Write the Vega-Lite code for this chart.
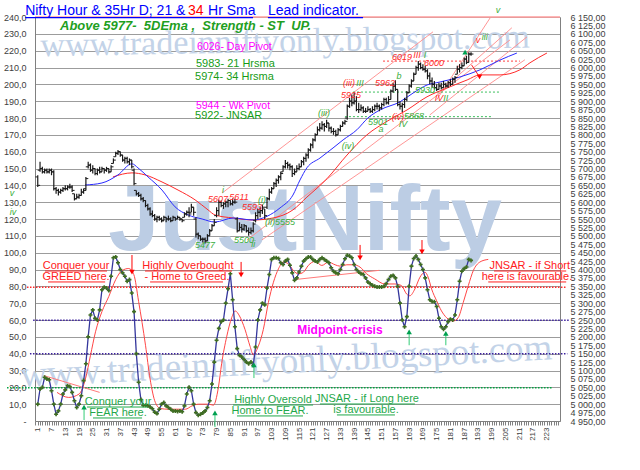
{
  "$schema": "https://vega.github.io/schema/vega-lite/v6.json",
  "width": 525,
  "height": 404,
  "autosize": {"type": "none"},
  "padding": {"left": 35, "top": 17, "right": 80, "bottom": 49},
  "background": "#ffffff",
  "config": {"view": {"stroke": null}, "font": "Liberation Sans", "axis": {"labelFont": "Liberation Sans"}},
  "datasets": {
    "wm": [
      {"t": "JustNifty", "i": 117.6, "v": 101.6, "g": "big"},
      {"t": "www.tradeinniftyonly.blogspot.com", "i": 108.9, "v": 225.2, "g": "url1"},
      {"t": "www.tradeinniftyonly.blogspot.com", "i": 109.4, "v": 35, "g": "url2"}
    ],
    "topb": [{"i1": -0.2, "i2": 228.8, "v": 240}],
    "ohl": [
      {"i1": -3.7, "i2": 231.8, "v": 79.5, "g": "red"},
      {"i1": -1, "i2": 233, "v": 59.8, "g": "purple"},
      {"i1": -2.4, "i2": 232, "v": 40, "g": "purple"},
      {"i1": -12.4, "i2": 225.3, "v": 19.8, "g": "green"}
    ],
    "otr": [
      {"i1": 3.6, "v1": 27, "i2": 28, "v2": 17},
      {"i1": 113, "v1": 84, "i2": 150, "v2": 89.5}
    ],
    "sig": [
      {"i": 9.4, "v": 17}, {"i": 14.5, "v": 14}, {"i": 19, "v": 16}, {"i": 21.8, "v": 25}, {"i": 24, "v": 39},
      {"i": 26.2, "v": 53}, {"i": 29, "v": 65}, {"i": 32, "v": 74}, {"i": 35, "v": 84}, {"i": 37.8, "v": 89.4},
      {"i": 40.7, "v": 90.6}, {"i": 42.9, "v": 87}, {"i": 45, "v": 71}, {"i": 48, "v": 45}, {"i": 50, "v": 25},
      {"i": 52.3, "v": 11}, {"i": 54.5, "v": 7.4}, {"i": 58, "v": 7}, {"i": 65.4, "v": 7}, {"i": 68.3, "v": 9},
      {"i": 71.2, "v": 10}, {"i": 75.6, "v": 10}, {"i": 77.6, "v": 9.4}, {"i": 79.8, "v": 20}, {"i": 81.2, "v": 34},
      {"i": 83.4, "v": 50}, {"i": 85.6, "v": 61.4}, {"i": 87.1, "v": 65.4}, {"i": 89, "v": 62.4}, {"i": 91.4, "v": 54.4},
      {"i": 93.6, "v": 44.4}, {"i": 95, "v": 39.4}, {"i": 97.2, "v": 44.4}, {"i": 99.4, "v": 54.4}, {"i": 101.6, "v": 70.4},
      {"i": 103.8, "v": 82.4}, {"i": 106, "v": 90.4}, {"i": 108.1, "v": 94.4}, {"i": 110.3, "v": 93.4}, {"i": 112.5, "v": 89.4},
      {"i": 114.7, "v": 87.4}, {"i": 116.9, "v": 88.4}, {"i": 119, "v": 92.4}, {"i": 122, "v": 94.8}, {"i": 124.9, "v": 92.4},
      {"i": 127.8, "v": 94.4}, {"i": 130.7, "v": 92.8}, {"i": 132.8, "v": 92}, {"i": 135.8, "v": 92.8}, {"i": 138.7, "v": 92.8},
      {"i": 141.6, "v": 91.4}, {"i": 144.5, "v": 87.4}, {"i": 148, "v": 84.4}, {"i": 152.4, "v": 81.4}, {"i": 156.8, "v": 81.4},
      {"i": 159.7, "v": 80.4}, {"i": 161.9, "v": 75.4}, {"i": 163.3, "v": 74.4}, {"i": 165.5, "v": 78.4}, {"i": 167.7, "v": 85.4},
      {"i": 169.9, "v": 88.4}, {"i": 171.3, "v": 85.4}, {"i": 172.8, "v": 78.4}, {"i": 175, "v": 71.4}, {"i": 177.1, "v": 65.4},
      {"i": 179.3, "v": 61.4}, {"i": 182.2, "v": 59.4}, {"i": 184.4, "v": 61.4}, {"i": 186.6, "v": 70.4}, {"i": 188.8, "v": 80.4},
      {"i": 191, "v": 89.4}, {"i": 193.8, "v": 94.4}, {"i": 197.5, "v": 96}
    ],
    "osc": [
      {"i": 1, "v": 10}, {"i": 2, "v": 19}, {"i": 3, "v": 20}, {"i": 4, "v": 26}, {"i": 5, "v": 25},
      {"i": 6, "v": 24.5}, {"i": 7, "v": 18}, {"i": 8, "v": 10}, {"i": 9, "v": 4}, {"i": 10, "v": 6},
      {"i": 11, "v": 10}, {"i": 12, "v": 16}, {"i": 13, "v": 18.5}, {"i": 14, "v": 21}, {"i": 15, "v": 20.5},
      {"i": 16, "v": 17}, {"i": 17, "v": 12}, {"i": 18, "v": 8}, {"i": 19, "v": 10}, {"i": 20, "v": 15},
      {"i": 21, "v": 24}, {"i": 22, "v": 34}, {"i": 23, "v": 50}, {"i": 24, "v": 63}, {"i": 25, "v": 66},
      {"i": 26, "v": 61}, {"i": 27, "v": 60}, {"i": 28, "v": 66}, {"i": 29, "v": 78}, {"i": 30, "v": 79.5},
      {"i": 31, "v": 79}, {"i": 32, "v": 77.5}, {"i": 33, "v": 86}, {"i": 34, "v": 97}, {"i": 35, "v": 97.5},
      {"i": 36, "v": 94}, {"i": 37, "v": 90}, {"i": 38, "v": 88}, {"i": 39, "v": 86}, {"i": 40, "v": 83},
      {"i": 41, "v": 84}, {"i": 42, "v": 76}, {"i": 43, "v": 65}, {"i": 44, "v": 40}, {"i": 45, "v": 23},
      {"i": 46, "v": 12.7}, {"i": 47, "v": 9.3}, {"i": 48, "v": 9.3}, {"i": 49, "v": 9}, {"i": 50, "v": 8.3},
      {"i": 51, "v": 7.3}, {"i": 52, "v": 5.3}, {"i": 53, "v": 4.4}, {"i": 54, "v": 7}, {"i": 55, "v": 10},
      {"i": 56, "v": 11}, {"i": 57, "v": 9}, {"i": 58, "v": 8}, {"i": 59, "v": 7}, {"i": 60, "v": 6},
      {"i": 61, "v": 6}, {"i": 62, "v": 5.7}, {"i": 63, "v": 6}, {"i": 64, "v": 5.5}, {"i": 65, "v": 9},
      {"i": 66, "v": 16}, {"i": 67, "v": 20}, {"i": 68, "v": 18}, {"i": 69, "v": 10}, {"i": 70, "v": 5},
      {"i": 71, "v": 3.4}, {"i": 72, "v": 4}, {"i": 73, "v": 4.8}, {"i": 74, "v": 6}, {"i": 75, "v": 8},
      {"i": 76, "v": 12}, {"i": 77, "v": 22}, {"i": 78, "v": 35}, {"i": 79, "v": 48}, {"i": 80, "v": 55},
      {"i": 81, "v": 59}, {"i": 82, "v": 60}, {"i": 83, "v": 70}, {"i": 84, "v": 78.6}, {"i": 85, "v": 87.5},
      {"i": 86, "v": 72}, {"i": 87, "v": 56}, {"i": 88, "v": 43}, {"i": 89, "v": 39}, {"i": 90, "v": 38},
      {"i": 91, "v": 36.5}, {"i": 92, "v": 35}, {"i": 93, "v": 34}, {"i": 94, "v": 35}, {"i": 95, "v": 33},
      {"i": 96, "v": 44}, {"i": 97, "v": 60}, {"i": 98, "v": 66}, {"i": 99, "v": 70}, {"i": 100, "v": 69},
      {"i": 101, "v": 79}, {"i": 102, "v": 87}, {"i": 103, "v": 96}, {"i": 104, "v": 97}, {"i": 105, "v": 97},
      {"i": 106, "v": 96.5}, {"i": 107, "v": 94}, {"i": 108, "v": 93}, {"i": 109, "v": 95}, {"i": 110, "v": 96},
      {"i": 111, "v": 92.5}, {"i": 112, "v": 88}, {"i": 113, "v": 83.6}, {"i": 114, "v": 85}, {"i": 115, "v": 88.5},
      {"i": 116, "v": 92}, {"i": 117, "v": 95}, {"i": 118, "v": 96.4}, {"i": 119, "v": 97.4}, {"i": 120, "v": 97.4},
      {"i": 121, "v": 96}, {"i": 122, "v": 95}, {"i": 123, "v": 94.5}, {"i": 124, "v": 96}, {"i": 125, "v": 97},
      {"i": 126, "v": 96}, {"i": 127, "v": 95}, {"i": 128, "v": 94}, {"i": 129, "v": 91}, {"i": 130, "v": 89},
      {"i": 131, "v": 88}, {"i": 132, "v": 87.5}, {"i": 133, "v": 90}, {"i": 134, "v": 93}, {"i": 135, "v": 96.4},
      {"i": 136, "v": 98.4}, {"i": 137, "v": 98}, {"i": 138, "v": 97}, {"i": 139, "v": 93}, {"i": 140, "v": 90},
      {"i": 141, "v": 88.5}, {"i": 142, "v": 87.5}, {"i": 143, "v": 87}, {"i": 144, "v": 85}, {"i": 145, "v": 82.6},
      {"i": 146, "v": 81.5}, {"i": 147, "v": 80.6}, {"i": 148, "v": 80}, {"i": 149, "v": 79.6}, {"i": 150, "v": 79.6},
      {"i": 151, "v": 79.6}, {"i": 152, "v": 80}, {"i": 153, "v": 81.6}, {"i": 154, "v": 84}, {"i": 155, "v": 86},
      {"i": 156, "v": 86.5}, {"i": 157, "v": 85}, {"i": 158, "v": 80}, {"i": 159, "v": 70}, {"i": 160, "v": 60},
      {"i": 161, "v": 56}, {"i": 162, "v": 62}, {"i": 163, "v": 80}, {"i": 164, "v": 92}, {"i": 165, "v": 96.5},
      {"i": 166, "v": 98}, {"i": 167, "v": 96}, {"i": 168, "v": 93}, {"i": 169, "v": 90}, {"i": 170, "v": 85},
      {"i": 171, "v": 78}, {"i": 172, "v": 72}, {"i": 173, "v": 71}, {"i": 174, "v": 70.8}, {"i": 175, "v": 68},
      {"i": 176, "v": 61}, {"i": 177, "v": 56}, {"i": 178, "v": 54.5}, {"i": 179, "v": 56}, {"i": 180, "v": 59},
      {"i": 181, "v": 60.5}, {"i": 182, "v": 60}, {"i": 183, "v": 63}, {"i": 184, "v": 72}, {"i": 185, "v": 83},
      {"i": 186, "v": 89}, {"i": 187, "v": 90.5}, {"i": 188, "v": 91.5}, {"i": 189, "v": 96}, {"i": 190, "v": 95.4}
    ],
    "arr": [
      {"i": 42.1, "v1": 98.6, "v2": 88.5, "g": "red"},
      {"i": 89.7, "v1": 94.5, "v2": 86.8, "g": "red"},
      {"i": 141.6, "v1": 104.6, "v2": 96.9, "g": "red"},
      {"i": 168.6, "v1": 107.5, "v2": 100.4, "g": "red"},
      {"i": 21.2, "v1": 0.6, "v2": 8.3, "g": "green"},
      {"i": 78.3, "v1": -3.6, "v2": 4.8, "g": "green"},
      {"i": 95.3, "v1": 25.5, "v2": 33.3, "g": "green"},
      {"i": 163, "v1": 45, "v2": 53, "g": "green"},
      {"i": 179, "v1": 45, "v2": 52, "g": "green"}
    ],
    "otxt": [
      {"t": "Conquer your", "i": 17.7, "v": 92.1, "g": "red"},
      {"t": "GREED here.", "i": 17.7, "v": 85.6, "g": "red"},
      {"t": "Highly Overbought", "i": 66.5, "v": 92.1, "g": "red"},
      {"t": "- Home to Greed.", "i": 66.1, "v": 85.6, "g": "red"},
      {"t": "JNSAR - if Short", "i": 215.6, "v": 92.1, "g": "red"},
      {"t": "here is favourable.", "i": 214.4, "v": 85.6, "g": "red"},
      {"t": "Conquer your", "i": 36, "v": 11.3, "g": "green"},
      {"t": "FEAR here.", "i": 36, "v": 4.8, "g": "green"},
      {"t": "Highly Oversold", "i": 103.6, "v": 12.5, "g": "green"},
      {"t": "Home to FEAR.", "i": 102.3, "v": 5.9, "g": "green"},
      {"t": "JNSAR - if Long here", "i": 144.6, "v": 13.1, "g": "green"},
      {"t": "is favourable.", "i": 144.2, "v": 6.5, "g": "green"},
      {"t": "Midpoint-crisis", "i": 132.8, "v": 54.1, "g": "mag"}
    ],
    "oul": [
      {"i1": 4.2, "i2": 31.2, "v": 89.1, "g": "red"},
      {"i1": 5.5, "i2": 30.4, "v": 82.6, "g": "red"},
      {"i1": 47.8, "i2": 85.7, "v": 89.1, "g": "red"},
      {"i1": 50, "i2": 81.8, "v": 82.6, "g": "red"},
      {"i1": 200, "i2": 231.5, "v": 89.1, "g": "red"},
      {"i1": 197.5, "i2": 231.5, "v": 82.6, "g": "red"},
      {"i1": 22.5, "i2": 49.1, "v": 8.3, "g": "green"},
      {"i1": 25.1, "i2": 46.5, "v": 1.8, "g": "green"},
      {"i1": 86.2, "i2": 121.1, "v": 9.5, "g": "green"},
      {"i1": 87.9, "i2": 116.7, "v": 3, "g": "green"},
      {"i1": 124.1, "i2": 165.5, "v": 10.1, "g": "green"},
      {"i1": 131.5, "i2": 156.8, "v": 3.6, "g": "green"}
    ],
    "ttl": [
      {"t": "Nifty Hour & 35Hr D; 21 &", "i": -4.5, "v": 243.3, "g": "blue"},
      {"t": "34", "i": 66.5, "v": 243.3, "g": "red"},
      {"t": "Hr Sma", "i": 75.3, "v": 243.3, "g": "blue"},
      {"t": "Lead indicator.", "i": 101.4, "v": 243.3, "g": "blue"},
      {"t": "Above 5977-\u00a0 5DEma ,\u00a0 Strength - ST\u00a0 UP.", "i": 10.7, "v": 234.4, "g": "green"}
    ],
    "tul": [
      {"i1": -4.5, "i2": 94.9, "v": 239.6},
      {"i1": 101.4, "i2": 142.9, "v": 239.6}
    ],
    "chan": [
      {"i1": 81.4, "p1": 5627, "i2": 173.4, "p2": 6106},
      {"i1": 92.3, "p1": 5488, "i2": 207, "p2": 6082},
      {"i1": 98.8, "p1": 5488, "i2": 213.5, "p2": 6023},
      {"i1": 175, "p1": 5904, "i2": 198.3, "p2": 6147},
      {"i1": 175, "p1": 5919, "i2": 207.8, "p2": 6118},
      {"i1": 172, "p1": 5859, "i2": 214.4, "p2": 6091}
    ],
    "phl": [
      {"i1": 151.6, "i2": 211.3, "p": 6019, "g": "red"},
      {"i1": 138.5, "i2": 202.6, "p": 5927, "g": "green"},
      {"i1": 135, "i2": 199.1, "p": 5854, "g": "green"}
    ],
    "sma21": [
      {"i": 21.6, "p": 5651}, {"i": 29, "p": 5657}, {"i": 36, "p": 5681}, {"i": 42.1, "p": 5714}, {"i": 44.7, "p": 5702},
      {"i": 49.1, "p": 5675}, {"i": 55.2, "p": 5636}, {"i": 60.9, "p": 5586}, {"i": 66.6, "p": 5562}, {"i": 72.7, "p": 5550},
      {"i": 78.3, "p": 5541}, {"i": 86.2, "p": 5553}, {"i": 94.9, "p": 5547}, {"i": 101, "p": 5558}, {"i": 106.7, "p": 5583},
      {"i": 112.3, "p": 5621}, {"i": 115.4, "p": 5666}, {"i": 118.4, "p": 5702}, {"i": 124.1, "p": 5731}, {"i": 129.8, "p": 5761},
      {"i": 134.2, "p": 5785}, {"i": 140.2, "p": 5815}, {"i": 145, "p": 5850}, {"i": 150.3, "p": 5874}, {"i": 159, "p": 5898},
      {"i": 164.7, "p": 5924}, {"i": 170.8, "p": 5948}, {"i": 176.5, "p": 5957}, {"i": 185.2, "p": 5972}, {"i": 193.9, "p": 5993},
      {"i": 202.6, "p": 6022}, {"i": 210, "p": 6043}
    ],
    "sma34": [
      {"i": 33.8, "p": 5675}, {"i": 42.1, "p": 5687}, {"i": 47.8, "p": 5681}, {"i": 55.2, "p": 5660}, {"i": 62.2, "p": 5636},
      {"i": 69.6, "p": 5607}, {"i": 75.3, "p": 5577}, {"i": 78.3, "p": 5562}, {"i": 86.2, "p": 5553}, {"i": 94.9, "p": 5547},
      {"i": 103.6, "p": 5553}, {"i": 112.3, "p": 5577}, {"i": 118.4, "p": 5615}, {"i": 127.2, "p": 5670}, {"i": 135.9, "p": 5740},
      {"i": 144.6, "p": 5800}, {"i": 153.3, "p": 5840}, {"i": 162.1, "p": 5874}, {"i": 170.8, "p": 5913}, {"i": 179.5, "p": 5939},
      {"i": 188.3, "p": 5963}, {"i": 193.9, "p": 5978}, {"i": 202.6, "p": 5978}, {"i": 211.3, "p": 5993}, {"i": 215.7, "p": 6014},
      {"i": 223.1, "p": 6043}
    ],
    "bars": [
      {"i":1,"o":5675,"h":5680,"l":5645,"c":5650},{"i":2,"o":5695,"h":5720,"l":5690,"c":5700},{"i":3,"o":5700,"h":5705,"l":5685,"c":5690},
      {"i":4,"o":5690,"h":5700,"l":5685,"c":5695},{"i":5,"o":5695,"h":5700,"l":5685,"c":5690},{"i":6,"o":5690,"h":5700,"l":5685,"c":5695},
      {"i":7,"o":5695,"h":5700,"l":5680,"c":5690},{"i":8,"o":5690,"h":5695,"l":5635,"c":5640},{"i":9,"o":5640,"h":5645,"l":5625,"c":5635},
      {"i":10,"o":5635,"h":5640,"l":5620,"c":5630},{"i":11,"o":5630,"h":5640,"l":5625,"c":5635},{"i":12,"o":5635,"h":5645,"l":5630,"c":5640},
      {"i":13,"o":5640,"h":5650,"l":5635,"c":5640},{"i":14,"o":5640,"h":5650,"l":5635,"c":5645},{"i":15,"o":5645,"h":5655,"l":5640,"c":5645},
      {"i":16,"o":5645,"h":5650,"l":5630,"c":5635},{"i":17,"o":5625,"h":5625,"l":5605,"c":5610},{"i":18,"o":5610,"h":5625,"l":5610,"c":5615},
      {"i":19,"o":5615,"h":5625,"l":5610,"c":5620},{"i":20,"o":5620,"h":5640,"l":5620,"c":5630},{"i":21,"o":5630,"h":5640,"l":5625,"c":5635},
      {"i":22,"o":5640,"h":5675,"l":5635,"c":5670},{"i":23,"o":5705,"h":5720,"l":5700,"c":5710},{"i":24,"o":5710,"h":5715,"l":5690,"c":5695},
      {"i":25,"o":5695,"h":5710,"l":5685,"c":5700},{"i":26,"o":5700,"h":5700,"l":5680,"c":5685},{"i":27,"o":5685,"h":5700,"l":5680,"c":5695},
      {"i":28,"o":5695,"h":5705,"l":5685,"c":5690},{"i":29,"o":5690,"h":5705,"l":5690,"c":5700},{"i":30,"o":5700,"h":5700,"l":5685,"c":5695},
      {"i":31,"o":5695,"h":5705,"l":5690,"c":5700},{"i":32,"o":5700,"h":5700,"l":5685,"c":5690},{"i":33,"o":5690,"h":5710,"l":5690,"c":5705},
      {"i":34,"o":5715,"h":5730,"l":5715,"c":5725},{"i":35,"o":5735,"h":5750,"l":5735,"c":5745},{"i":36,"o":5745,"h":5755,"l":5740,"c":5750},
      {"i":37,"o":5750,"h":5750,"l":5735,"c":5740},{"i":38,"o":5740,"h":5740,"l":5720,"c":5725},{"i":39,"o":5725,"h":5735,"l":5715,"c":5730},
      {"i":40,"o":5730,"h":5735,"l":5715,"c":5720},{"i":41,"o":5720,"h":5730,"l":5710,"c":5725},{"i":42,"o":5725,"h":5725,"l":5700,"c":5705},
      {"i":43,"o":5695,"h":5700,"l":5650,"c":5655},{"i":44,"o":5635,"h":5635,"l":5620,"c":5625},{"i":45,"o":5625,"h":5630,"l":5615,"c":5620},
      {"i":46,"o":5620,"h":5625,"l":5605,"c":5610},{"i":47,"o":5610,"h":5615,"l":5600,"c":5605},{"i":48,"o":5605,"h":5605,"l":5585,"c":5590},
      {"i":49,"o":5590,"h":5595,"l":5575,"c":5580},{"i":50,"o":5580,"h":5585,"l":5560,"c":5565},{"i":51,"o":5565,"h":5575,"l":5555,"c":5560},
      {"i":52,"o":5560,"h":5565,"l":5545,"c":5550},{"i":53,"o":5550,"h":5560,"l":5540,"c":5555},{"i":54,"o":5555,"h":5560,"l":5545,"c":5550},
      {"i":55,"o":5550,"h":5555,"l":5540,"c":5545},{"i":56,"o":5545,"h":5560,"l":5545,"c":5555},{"i":57,"o":5555,"h":5555,"l":5540,"c":5550},
      {"i":58,"o":5550,"h":5560,"l":5545,"c":5550},{"i":59,"o":5550,"h":5555,"l":5540,"c":5545},{"i":60,"o":5545,"h":5560,"l":5545,"c":5555},
      {"i":61,"o":5555,"h":5555,"l":5545,"c":5550},{"i":62,"o":5550,"h":5560,"l":5550,"c":5555},{"i":63,"o":5555,"h":5555,"l":5545,"c":5550},
      {"i":64,"o":5550,"h":5550,"l":5540,"c":5545},{"i":65,"o":5555,"h":5570,"l":5555,"c":5565},{"i":66,"o":5565,"h":5575,"l":5560,"c":5570},
      {"i":67,"o":5570,"h":5585,"l":5555,"c":5565},{"i":68,"o":5570,"h":5595,"l":5570,"c":5585},{"i":69,"o":5585,"h":5585,"l":5560,"c":5570},
      {"i":70,"o":5550,"h":5555,"l":5495,"c":5505},{"i":71,"o":5505,"h":5510,"l":5490,"c":5500},{"i":72,"o":5500,"h":5500,"l":5485,"c":5490},
      {"i":73,"o":5490,"h":5495,"l":5480,"c":5490},{"i":74,"o":5490,"h":5495,"l":5477,"c":5485},{"i":75,"o":5485,"h":5505,"l":5485,"c":5500},
      {"i":76,"o":5500,"h":5520,"l":5500,"c":5515},{"i":77,"o":5515,"h":5535,"l":5515,"c":5530},{"i":78,"o":5530,"h":5550,"l":5530,"c":5540},
      {"i":79,"o":5560,"h":5585,"l":5555,"c":5575},{"i":80,"o":5575,"h":5607,"l":5560,"c":5600},{"i":81,"o":5600,"h":5605,"l":5585,"c":5590},
      {"i":82,"o":5590,"h":5600,"l":5580,"c":5595},{"i":83,"o":5595,"h":5605,"l":5585,"c":5600},{"i":84,"o":5600,"h":5610,"l":5585,"c":5605},
      {"i":85,"o":5605,"h":5605,"l":5590,"c":5595},{"i":86,"o":5595,"h":5611,"l":5590,"c":5600},{"i":87,"o":5600,"h":5610,"l":5595,"c":5600},
      {"i":88,"o":5550,"h":5555,"l":5510,"c":5515},{"i":89,"o":5515,"h":5540,"l":5515,"c":5525},{"i":90,"o":5525,"h":5535,"l":5510,"c":5520},
      {"i":91,"o":5520,"h":5535,"l":5515,"c":5530},{"i":92,"o":5530,"h":5530,"l":5510,"c":5515},{"i":93,"o":5515,"h":5525,"l":5500,"c":5510},
      {"i":94,"o":5510,"h":5525,"l":5505,"c":5515},{"i":95,"o":5515,"h":5540,"l":5510,"c":5535},{"i":96,"o":5545,"h":5570,"l":5540,"c":5560},
      {"i":97,"o":5560,"h":5580,"l":5550,"c":5570},{"i":98,"o":5570,"h":5585,"l":5555,"c":5575},{"i":99,"o":5575,"h":5593,"l":5565,"c":5585},
      {"i":100,"o":5580,"h":5580,"l":5550,"c":5560},{"i":101,"o":5585,"h":5615,"l":5580,"c":5610},{"i":102,"o":5610,"h":5640,"l":5605,"c":5630},
      {"i":103,"o":5630,"h":5645,"l":5625,"c":5640},{"i":104,"o":5640,"h":5660,"l":5640,"c":5655},{"i":105,"o":5655,"h":5670,"l":5645,"c":5665},
      {"i":106,"o":5665,"h":5680,"l":5655,"c":5675},{"i":107,"o":5675,"h":5690,"l":5665,"c":5685},{"i":108,"o":5690,"h":5710,"l":5690,"c":5705},
      {"i":109,"o":5705,"h":5725,"l":5700,"c":5715},{"i":110,"o":5715,"h":5720,"l":5700,"c":5710},{"i":111,"o":5710,"h":5715,"l":5695,"c":5705},
      {"i":112,"o":5705,"h":5710,"l":5675,"c":5685},{"i":113,"o":5685,"h":5700,"l":5680,"c":5690},{"i":114,"o":5690,"h":5710,"l":5690,"c":5700},
      {"i":115,"o":5700,"h":5715,"l":5695,"c":5705},{"i":116,"o":5705,"h":5725,"l":5705,"c":5720},{"i":117,"o":5720,"h":5735,"l":5710,"c":5730},
      {"i":118,"o":5730,"h":5745,"l":5720,"c":5740},{"i":119,"o":5740,"h":5760,"l":5730,"c":5755},{"i":120,"o":5755,"h":5775,"l":5750,"c":5770},
      {"i":121,"o":5770,"h":5790,"l":5760,"c":5785},{"i":122,"o":5785,"h":5805,"l":5780,"c":5800},{"i":123,"o":5800,"h":5825,"l":5800,"c":5815},
      {"i":124,"o":5815,"h":5835,"l":5810,"c":5820},{"i":125,"o":5820,"h":5840,"l":5815,"c":5830},{"i":126,"o":5830,"h":5835,"l":5810,"c":5825},
      {"i":127,"o":5825,"h":5845,"l":5820,"c":5835},{"i":128,"o":5835,"h":5835,"l":5810,"c":5820},{"i":129,"o":5820,"h":5825,"l":5805,"c":5810},
      {"i":130,"o":5810,"h":5820,"l":5800,"c":5810},{"i":131,"o":5810,"h":5815,"l":5795,"c":5800},{"i":132,"o":5800,"h":5820,"l":5800,"c":5815},
      {"i":133,"o":5815,"h":5830,"l":5810,"c":5825},{"i":134,"o":5825,"h":5840,"l":5825,"c":5835},{"i":135,"o":5835,"h":5845,"l":5830,"c":5840},
      {"i":136,"o":5850,"h":5890,"l":5845,"c":5885},{"i":137,"o":5885,"h":5910,"l":5880,"c":5900},{"i":138,"o":5900,"h":5920,"l":5885,"c":5895},
      {"i":139,"o":5895,"h":5925,"l":5890,"c":5900},{"i":140,"o":5900,"h":5915,"l":5870,"c":5875},{"i":141,"o":5875,"h":5895,"l":5865,"c":5875},
      {"i":142,"o":5875,"h":5890,"l":5870,"c":5880},{"i":143,"o":5880,"h":5885,"l":5865,"c":5870},{"i":144,"o":5870,"h":5880,"l":5865,"c":5870},
      {"i":145,"o":5870,"h":5885,"l":5870,"c":5875},{"i":146,"o":5875,"h":5880,"l":5865,"c":5870},{"i":147,"o":5870,"h":5885,"l":5865,"c":5875},
      {"i":148,"o":5875,"h":5890,"l":5870,"c":5885},{"i":149,"o":5885,"h":5895,"l":5875,"c":5885},{"i":150,"o":5885,"h":5890,"l":5870,"c":5880},
      {"i":151,"o":5880,"h":5895,"l":5875,"c":5890},{"i":152,"o":5890,"h":5910,"l":5885,"c":5905},{"i":153,"o":5905,"h":5910,"l":5890,"c":5895},
      {"i":154,"o":5895,"h":5915,"l":5890,"c":5905},{"i":155,"o":5905,"h":5935,"l":5905,"c":5930},{"i":156,"o":5930,"h":5955,"l":5925,"c":5945},
      {"i":157,"o":5945,"h":5962,"l":5930,"c":5935},{"i":158,"o":5935,"h":5935,"l":5885,"c":5890},{"i":159,"o":5890,"h":5900,"l":5875,"c":5885},
      {"i":160,"o":5885,"h":5895,"l":5868,"c":5890},{"i":161,"o":5890,"h":5910,"l":5880,"c":5905},{"i":162,"o":5905,"h":5930,"l":5900,"c":5925},
      {"i":163,"o":5925,"h":5950,"l":5925,"c":5945},{"i":164,"o":5945,"h":5965,"l":5940,"c":5960},{"i":165,"o":5960,"h":5985,"l":5960,"c":5980},
      {"i":166,"o":5980,"h":6005,"l":5980,"c":6000},{"i":167,"o":6000,"h":6019,"l":5990,"c":6010},{"i":168,"o":6010,"h":6015,"l":5995,"c":6000},
      {"i":169,"o":6000,"h":6010,"l":5990,"c":5995},{"i":170,"o":5995,"h":6005,"l":5985,"c":5990},{"i":171,"o":5990,"h":5995,"l":5965,"c":5975},
      {"i":172,"o":5975,"h":5985,"l":5950,"c":5960},{"i":173,"o":5960,"h":5970,"l":5940,"c":5950},{"i":174,"o":5950,"h":5960,"l":5935,"c":5940},
      {"i":175,"o":5940,"h":5950,"l":5930,"c":5935},{"i":176,"o":5935,"h":5955,"l":5935,"c":5945},{"i":177,"o":5945,"h":5955,"l":5935,"c":5940},
      {"i":178,"o":5940,"h":5960,"l":5940,"c":5950},{"i":179,"o":5950,"h":5955,"l":5940,"c":5945},{"i":180,"o":5945,"h":5960,"l":5940,"c":5955},
      {"i":181,"o":5955,"h":5965,"l":5945,"c":5950},{"i":182,"o":5950,"h":5970,"l":5950,"c":5965},{"i":183,"o":5965,"h":5975,"l":5955,"c":5970},
      {"i":184,"o":5980,"h":6005,"l":5980,"c":5995},{"i":185,"o":5995,"h":6010,"l":5985,"c":6000},{"i":186,"o":6000,"h":6015,"l":5995,"c":6005},
      {"i":187,"o":6005,"h":6030,"l":6005,"c":6025},{"i":188,"o":6025,"h":6035,"l":6010,"c":6015},{"i":189,"o":6015,"h":6045,"l":6015,"c":6040},
      {"i":190,"o":6040,"h":6045,"l":6035,"c":6040}
    ],
    "parr": [{"i1": 190.2, "p1": 6008, "i2": 193.7, "p2": 5972}],
    "ptri": [
      {"i": 193.7, "p": 5972, "g": "red"},
      {"i": 187.4, "p": 6046, "g": "green"}
    ],
    "ptxt": [
      {"t": "6026- Day Pivot", "i": 70.5, "p": 6061, "g": "mag"},
      {"t": "5983- 21 Hrsma", "i": 70, "p": 6010, "g": "green"},
      {"t": "5974- 34 Hrsma", "i": 69.6, "p": 5972, "g": "green"},
      {"t": "5944 - Wk Pivot", "i": 70, "p": 5886, "g": "mag"},
      {"t": "5922- JNSAR", "i": 69.6, "p": 5856, "g": "green"}
    ],
    "wave": [
      {"t": "5607", "i": 79.6, "p": 5609.5, "g": "red"},
      {"t": "5611", "i": 88.8, "p": 5615.5, "g": "red"},
      {"t": "5593", "i": 94.5, "p": 5586, "g": "red"},
      {"t": "(iii)", "i": 136.8, "p": 5954, "g": "red"},
      {"t": "5925", "i": 137.6, "p": 5918.5, "g": "red"},
      {"t": "5962", "i": 152.5, "p": 5954, "g": "red"},
      {"t": "(iv)", "i": 158.1, "p": 5853, "g": "red"},
      {"t": "6019", "i": 159.9, "p": 6031.5, "g": "red"},
      {"t": "III", "i": 166.4, "p": 6037.5, "g": "red"},
      {"t": "6000", "i": 173.8, "p": 6013.5, "g": "red"},
      {"t": "IV", "i": 176, "p": 5909.5, "g": "red"},
      {"t": "v", "i": 193, "p": 6082, "g": "red"},
      {"t": "v", "i": -10.2, "p": 5627.5, "g": "green"},
      {"t": "iv", "i": -9.8, "p": 5571, "g": "green"},
      {"t": "i", "i": 81.8, "p": 5636.5, "g": "green"},
      {"t": "5477", "i": 74, "p": 5473, "g": "green"},
      {"t": "(i)", "i": 98.8, "p": 5606.5, "g": "green"},
      {"t": "(ii)5555", "i": 106.7, "p": 5541, "g": "green"},
      {"t": "5500", "i": 91, "p": 5487.5, "g": "green"},
      {"t": "ii", "i": 95, "p": 5475, "g": "green"},
      {"t": "(iii)", "i": 125.9, "p": 5865, "g": "green"},
      {"t": "(iv)", "i": 136.3, "p": 5767, "g": "green"},
      {"t": "III", "i": 141.6, "p": 5954, "g": "green"},
      {"t": "5901", "i": 149.4, "p": 5838.5, "g": "green"},
      {"t": "a", "i": 150.7, "p": 5817.5, "g": "green"},
      {"t": "b", "i": 158.6, "p": 5975, "g": "green"},
      {"t": "5868", "i": 165.1, "p": 5856, "g": "green"},
      {"t": "IV", "i": 160.3, "p": 5832.5, "g": "green"},
      {"t": "I", "i": 169.9, "p": 6037.5, "g": "green"},
      {"t": "5930", "i": 169.9, "p": 5933.5, "g": "green"},
      {"t": "II", "i": 179, "p": 5909.5, "g": "green"},
      {"t": "iii", "i": 196, "p": 6091, "g": "green"},
      {"t": "v", "i": 201.8, "p": 6171, "g": "green"}
    ]
  },
  "layer": [
    {
      "resolve": {"axis": {"x": "independent", "y": "independent"}},
      "layer": [
        {
          "data": {"name": "wm"},
          "transform": [{"filter": "datum.g == 'big'"}],
          "mark": {"type": "text", "font": "Liberation Sans", "fontWeight": "bold", "fontSize": 92, "color": "#bccde4", "align": "center", "baseline": "alphabetic"},
          "encoding": {
            "x": {
              "field": "i", "type": "quantitative", "title": null,
              "scale": {"domain": [-0.2, 228.8], "nice": false, "zero": false},
              "axis": {
                "orient": "bottom", "grid": false, "tickSize": 4, "tickColor": "#808080", "domainColor": "#808080",
                "labelAngle": 270, "labelFontSize": 8, "labelColor": "#404040", "labelPadding": 2,
                "labelOverlap": false, "labelFlush": false,
                "labelExpr": "datum.value % 6 == 1 ? datum.label : ''",
                "values": [0,1,2,3,4,5,6,7,8,9,10,11,12,13,14,15,16,17,18,19,20,21,22,23,24,25,26,27,28,29,30,31,32,33,34,35,36,37,38,39,40,41,42,43,44,45,46,47,48,49,50,51,52,53,54,55,56,57,58,59,60,61,62,63,64,65,66,67,68,69,70,71,72,73,74,75,76,77,78,79,80,81,82,83,84,85,86,87,88,89,90,91,92,93,94,95,96,97,98,99,100,101,102,103,104,105,106,107,108,109,110,111,112,113,114,115,116,117,118,119,120,121,122,123,124,125,126,127,128,129,130,131,132,133,134,135,136,137,138,139,140,141,142,143,144,145,146,147,148,149,150,151,152,153,154,155,156,157,158,159,160,161,162,163,164,165,166,167,168,169,170,171,172,173,174,175,176,177,178,179,180,181,182,183,184,185,186,187,188,189,190,191,192,193,194,195,196,197,198,199,200,201,202,203,204,205,206,207,208,209,210,211,212,213,214,215,216,217,218,219,220,221,222,223,224,225,226,227,228]
              }
            },
            "y": {
              "field": "v", "type": "quantitative", "title": null,
              "scale": {"domain": [0, 240], "nice": false, "zero": false},
              "axis": {
                "orient": "left", "grid": true, "gridColor": "#9c9c9c", "gridWidth": 1, "ticks": false,
                "domainColor": "#808080", "labelFontSize": 9, "labelColor": "#404040", "labelPadding": 9,
                "labelOverlap": false,
                "values": [0,10,20,30,40,50,60,70,80,90,100,110,120,130,140,150,160,170,180,190,200,210,220,230,240],
                "labelExpr": "datum.value == 0 ? '-' : replace(format(datum.value, '.1f'), '.', ',')"
              }
            },
            "text": {"field": "t"}
          }
        },
        {
          "data": {"name": "wm"},
          "transform": [{"filter": "datum.g == 'url1'"}],
          "mark": {"type": "text", "font": "Liberation Serif", "fontSize": 34, "color": "#c3d3e8", "align": "center", "baseline": "middle", "angle": -1},
          "encoding": {"x": {"field": "i", "type": "quantitative", "axis": null}, "y": {"field": "v", "type": "quantitative", "axis": null}, "text": {"field": "t"}}
        },
        {
          "data": {"name": "wm"},
          "transform": [{"filter": "datum.g == 'url2'"}],
          "mark": {"type": "text", "font": "Liberation Serif", "fontSize": 37, "color": "#c3d3e8", "align": "center", "baseline": "middle", "angle": -3},
          "encoding": {"x": {"field": "i", "type": "quantitative", "axis": null}, "y": {"field": "v", "type": "quantitative", "axis": null}, "text": {"field": "t"}}
        },
        {
          "data": {"name": "topb"},
          "mark": {"type": "rule", "color": "#ff9c9c", "strokeWidth": 1.3},
          "encoding": {"x": {"field": "i1", "type": "quantitative", "axis": null}, "x2": {"field": "i2"}, "y": {"field": "v", "type": "quantitative", "axis": null}}
        },
        {
          "data": {"name": "ohl"},
          "transform": [{"filter": "datum.g == 'red'"}],
          "mark": {"type": "rule", "color": "#ff2a2a", "strokeWidth": 1.5, "strokeDash": [1.5, 1.5]},
          "encoding": {"x": {"field": "i1", "type": "quantitative", "axis": null}, "x2": {"field": "i2"}, "y": {"field": "v", "type": "quantitative", "axis": null}}
        },
        {
          "data": {"name": "ohl"},
          "transform": [{"filter": "datum.g == 'purple'"}],
          "mark": {"type": "rule", "color": "#3b1f9c", "strokeWidth": 1.5, "strokeDash": [1.5, 1.5]},
          "encoding": {"x": {"field": "i1", "type": "quantitative", "axis": null}, "x2": {"field": "i2"}, "y": {"field": "v", "type": "quantitative", "axis": null}}
        },
        {
          "data": {"name": "ohl"},
          "transform": [{"filter": "datum.g == 'green'"}],
          "mark": {"type": "rule", "color": "#00a040", "strokeWidth": 1.5, "strokeDash": [1.5, 1.5]},
          "encoding": {"x": {"field": "i1", "type": "quantitative", "axis": null}, "x2": {"field": "i2"}, "y": {"field": "v", "type": "quantitative", "axis": null}}
        },
        {
          "data": {"name": "otr"},
          "mark": {"type": "rule", "color": "#ff7a7a", "strokeWidth": 1},
          "encoding": {"x": {"field": "i1", "type": "quantitative", "axis": null}, "x2": {"field": "i2"}, "y": {"field": "v1", "type": "quantitative", "axis": null}, "y2": {"field": "v2"}}
        },
        {
          "data": {"name": "sig"},
          "mark": {"type": "line", "color": "#ff4646", "strokeWidth": 1, "interpolate": "monotone"},
          "encoding": {"x": {"field": "i", "type": "quantitative", "axis": null}, "y": {"field": "v", "type": "quantitative", "axis": null}}
        },
        {
          "data": {"name": "osc"},
          "mark": {"type": "line", "color": "#34369c", "strokeWidth": 1.3},
          "encoding": {"x": {"field": "i", "type": "quantitative", "axis": null}, "y": {"field": "v", "type": "quantitative", "axis": null}}
        },
        {
          "data": {"name": "osc"},
          "mark": {"type": "point", "shape": "cross", "filled": true, "size": 16, "color": "#3f6d22", "opacity": 1},
          "encoding": {"x": {"field": "i", "type": "quantitative", "axis": null}, "y": {"field": "v", "type": "quantitative", "axis": null}}
        },
        {
          "data": {"name": "arr"},
          "transform": [{"filter": "datum.g == 'red'"}],
          "mark": {"type": "rule", "color": "#ff0000", "strokeWidth": 1},
          "encoding": {"x": {"field": "i", "type": "quantitative", "axis": null}, "y": {"field": "v1", "type": "quantitative", "axis": null}, "y2": {"field": "v2"}}
        },
        {
          "data": {"name": "arr"},
          "transform": [{"filter": "datum.g == 'red'"}],
          "mark": {"type": "point", "shape": "triangle-down", "filled": true, "size": 30, "color": "#ff0000", "opacity": 1},
          "encoding": {"x": {"field": "i", "type": "quantitative", "axis": null}, "y": {"field": "v2", "type": "quantitative", "axis": null}}
        },
        {
          "data": {"name": "arr"},
          "transform": [{"filter": "datum.g == 'green'"}],
          "mark": {"type": "rule", "color": "#33cc77", "strokeWidth": 1},
          "encoding": {"x": {"field": "i", "type": "quantitative", "axis": null}, "y": {"field": "v1", "type": "quantitative", "axis": null}, "y2": {"field": "v2"}}
        },
        {
          "data": {"name": "arr"},
          "transform": [{"filter": "datum.g == 'green'"}],
          "mark": {"type": "point", "shape": "triangle-up", "filled": true, "size": 30, "color": "#00a050", "opacity": 1},
          "encoding": {"x": {"field": "i", "type": "quantitative", "axis": null}, "y": {"field": "v2", "type": "quantitative", "axis": null}}
        },
        {
          "data": {"name": "otxt"},
          "transform": [{"filter": "datum.g == 'red'"}],
          "mark": {"type": "text", "fontSize": 11, "color": "#ff2020", "align": "center", "baseline": "middle"},
          "encoding": {"x": {"field": "i", "type": "quantitative", "axis": null}, "y": {"field": "v", "type": "quantitative", "axis": null}, "text": {"field": "t"}}
        },
        {
          "data": {"name": "otxt"},
          "transform": [{"filter": "datum.g == 'green'"}],
          "mark": {"type": "text", "fontSize": 11, "color": "#1fa84a", "align": "center", "baseline": "middle"},
          "encoding": {"x": {"field": "i", "type": "quantitative", "axis": null}, "y": {"field": "v", "type": "quantitative", "axis": null}, "text": {"field": "t"}}
        },
        {
          "data": {"name": "otxt"},
          "transform": [{"filter": "datum.g == 'mag'"}],
          "mark": {"type": "text", "fontSize": 12, "fontWeight": "bold", "color": "#ff00ff", "align": "center", "baseline": "middle"},
          "encoding": {"x": {"field": "i", "type": "quantitative", "axis": null}, "y": {"field": "v", "type": "quantitative", "axis": null}, "text": {"field": "t"}}
        },
        {
          "data": {"name": "oul"},
          "transform": [{"filter": "datum.g == 'red'"}],
          "mark": {"type": "rule", "color": "#ff2020", "strokeWidth": 1},
          "encoding": {"x": {"field": "i1", "type": "quantitative", "axis": null}, "x2": {"field": "i2"}, "y": {"field": "v", "type": "quantitative", "axis": null}}
        },
        {
          "data": {"name": "oul"},
          "transform": [{"filter": "datum.g == 'green'"}],
          "mark": {"type": "rule", "color": "#1fa84a", "strokeWidth": 1},
          "encoding": {"x": {"field": "i1", "type": "quantitative", "axis": null}, "x2": {"field": "i2"}, "y": {"field": "v", "type": "quantitative", "axis": null}}
        },
        {
          "data": {"name": "tul"},
          "mark": {"type": "rule", "color": "#0000ff", "strokeWidth": 1.2},
          "encoding": {"x": {"field": "i1", "type": "quantitative", "axis": null}, "x2": {"field": "i2"}, "y": {"field": "v", "type": "quantitative", "axis": null}}
        },
        {
          "data": {"name": "ttl"},
          "transform": [{"filter": "datum.g == 'blue'"}],
          "mark": {"type": "text", "fontSize": 14, "color": "#0000ff", "align": "left", "baseline": "middle"},
          "encoding": {"x": {"field": "i", "type": "quantitative", "axis": null}, "y": {"field": "v", "type": "quantitative", "axis": null}, "text": {"field": "t"}}
        },
        {
          "data": {"name": "ttl"},
          "transform": [{"filter": "datum.g == 'red'"}],
          "mark": {"type": "text", "fontSize": 14, "color": "#ff0000", "align": "left", "baseline": "middle"},
          "encoding": {"x": {"field": "i", "type": "quantitative", "axis": null}, "y": {"field": "v", "type": "quantitative", "axis": null}, "text": {"field": "t"}}
        },
        {
          "data": {"name": "ttl"},
          "transform": [{"filter": "datum.g == 'green'"}],
          "mark": {"type": "text", "fontSize": 13, "fontWeight": "bold", "fontStyle": "italic", "color": "#1f9f1f", "align": "left", "baseline": "middle"},
          "encoding": {"x": {"field": "i", "type": "quantitative", "axis": null}, "y": {"field": "v", "type": "quantitative", "axis": null}, "text": {"field": "t"}}
        }
      ]
    },
    {
      "resolve": {"axis": {"x": "independent", "y": "independent"}},
      "layer": [
        {
          "data": {"name": "chan"},
          "mark": {"type": "rule", "color": "#ff8a8a", "strokeWidth": 0.9},
          "encoding": {
            "x": {"field": "i1", "type": "quantitative", "axis": null},
            "x2": {"field": "i2"},
            "y": {
              "field": "p1", "type": "quantitative", "title": null,
              "scale": {"domain": [4950, 6150], "nice": false, "zero": false},
              "axis": {
                "orient": "right", "grid": false, "ticks": false, "domainColor": "#808080",
                "labelFontSize": 9, "labelColor": "#404040", "labelPadding": 10, "labelOverlap": false,
                "values": [4950,4975,5000,5025,5050,5075,5100,5125,5150,5175,5200,5225,5250,5275,5300,5325,5350,5375,5400,5425,5450,5475,5500,5525,5550,5575,5600,5625,5650,5675,5700,5725,5750,5775,5800,5825,5850,5875,5900,5925,5950,5975,6000,6025,6050,6075,6100,6125,6150],
                "labelExpr": "replace(replace(format(datum.value, ',.2f'), ',', ' '), '.', ',')"
              }
            },
            "y2": {"field": "p2"}
          }
        },
        {
          "data": {"name": "phl"},
          "transform": [{"filter": "datum.g == 'red'"}],
          "mark": {"type": "rule", "color": "#ff4040", "strokeWidth": 1, "strokeDash": [2, 2]},
          "encoding": {"x": {"field": "i1", "type": "quantitative", "axis": null}, "x2": {"field": "i2"}, "y": {"field": "p", "type": "quantitative", "axis": null}}
        },
        {
          "data": {"name": "phl"},
          "transform": [{"filter": "datum.g == 'green'"}],
          "mark": {"type": "rule", "color": "#3cbf5c", "strokeWidth": 1, "strokeDash": [2, 2]},
          "encoding": {"x": {"field": "i1", "type": "quantitative", "axis": null}, "x2": {"field": "i2"}, "y": {"field": "p", "type": "quantitative", "axis": null}}
        },
        {
          "data": {"name": "sma34"},
          "mark": {"type": "line", "color": "#ff2a2a", "strokeWidth": 1, "interpolate": "monotone"},
          "encoding": {"x": {"field": "i", "type": "quantitative", "axis": null}, "y": {"field": "p", "type": "quantitative", "axis": null}}
        },
        {
          "data": {"name": "sma21"},
          "mark": {"type": "line", "color": "#2a2aff", "strokeWidth": 1, "interpolate": "monotone"},
          "encoding": {"x": {"field": "i", "type": "quantitative", "axis": null}, "y": {"field": "p", "type": "quantitative", "axis": null}}
        },
        {
          "data": {"name": "bars"},
          "mark": {"type": "rule", "color": "#1a1a1a", "strokeWidth": 1.2},
          "encoding": {"x": {"field": "i", "type": "quantitative", "axis": null}, "y": {"field": "l", "type": "quantitative", "axis": null}, "y2": {"field": "h"}}
        },
        {
          "data": {"name": "bars"},
          "mark": {"type": "tick", "orient": "horizontal", "size": 2.4, "thickness": 1, "xOffset": -1.2, "color": "#1a1a1a", "opacity": 1},
          "encoding": {"x": {"field": "i", "type": "quantitative", "axis": null}, "y": {"field": "o", "type": "quantitative", "axis": null}}
        },
        {
          "data": {"name": "bars"},
          "mark": {"type": "tick", "orient": "horizontal", "size": 2.4, "thickness": 1, "xOffset": 1.2, "color": "#1a1a1a", "opacity": 1},
          "encoding": {"x": {"field": "i", "type": "quantitative", "axis": null}, "y": {"field": "c", "type": "quantitative", "axis": null}}
        },
        {
          "data": {"name": "parr"},
          "mark": {"type": "rule", "color": "#ff2020", "strokeWidth": 1},
          "encoding": {"x": {"field": "i1", "type": "quantitative", "axis": null}, "x2": {"field": "i2"}, "y": {"field": "p1", "type": "quantitative", "axis": null}, "y2": {"field": "p2"}}
        },
        {
          "data": {"name": "ptri"},
          "transform": [{"filter": "datum.g == 'red'"}],
          "mark": {"type": "point", "shape": "triangle-down", "filled": true, "size": 30, "color": "#ff0000", "opacity": 1},
          "encoding": {"x": {"field": "i", "type": "quantitative", "axis": null}, "y": {"field": "p", "type": "quantitative", "axis": null}}
        },
        {
          "data": {"name": "ptri"},
          "transform": [{"filter": "datum.g == 'green'"}],
          "mark": {"type": "point", "shape": "triangle-up", "filled": true, "size": 30, "color": "#00a050", "opacity": 1},
          "encoding": {"x": {"field": "i", "type": "quantitative", "axis": null}, "y": {"field": "p", "type": "quantitative", "axis": null}}
        },
        {
          "data": {"name": "ptxt"},
          "transform": [{"filter": "datum.g == 'mag'"}],
          "mark": {"type": "text", "fontSize": 10.5, "color": "#ff00ff", "align": "left", "baseline": "middle"},
          "encoding": {"x": {"field": "i", "type": "quantitative", "axis": null}, "y": {"field": "p", "type": "quantitative", "axis": null}, "text": {"field": "t"}}
        },
        {
          "data": {"name": "ptxt"},
          "transform": [{"filter": "datum.g == 'green'"}],
          "mark": {"type": "text", "fontSize": 11, "color": "#169c16", "align": "left", "baseline": "middle"},
          "encoding": {"x": {"field": "i", "type": "quantitative", "axis": null}, "y": {"field": "p", "type": "quantitative", "axis": null}, "text": {"field": "t"}}
        },
        {
          "data": {"name": "wave"},
          "transform": [{"filter": "datum.g == 'red'"}],
          "mark": {"type": "text", "fontSize": 9, "fontStyle": "italic", "color": "#ff2a2a", "align": "center", "baseline": "middle"},
          "encoding": {"x": {"field": "i", "type": "quantitative", "axis": null}, "y": {"field": "p", "type": "quantitative", "axis": null}, "text": {"field": "t"}}
        },
        {
          "data": {"name": "wave"},
          "transform": [{"filter": "datum.g == 'green'"}],
          "mark": {"type": "text", "fontSize": 9, "fontStyle": "italic", "color": "#3aae3a", "align": "center", "baseline": "middle"},
          "encoding": {"x": {"field": "i", "type": "quantitative", "axis": null}, "y": {"field": "p", "type": "quantitative", "axis": null}, "text": {"field": "t"}}
        }
      ]
    }
  ],
  "resolve": {"scale": {"y": "independent"}, "axis": {"x": "independent", "y": "independent"}}
}
